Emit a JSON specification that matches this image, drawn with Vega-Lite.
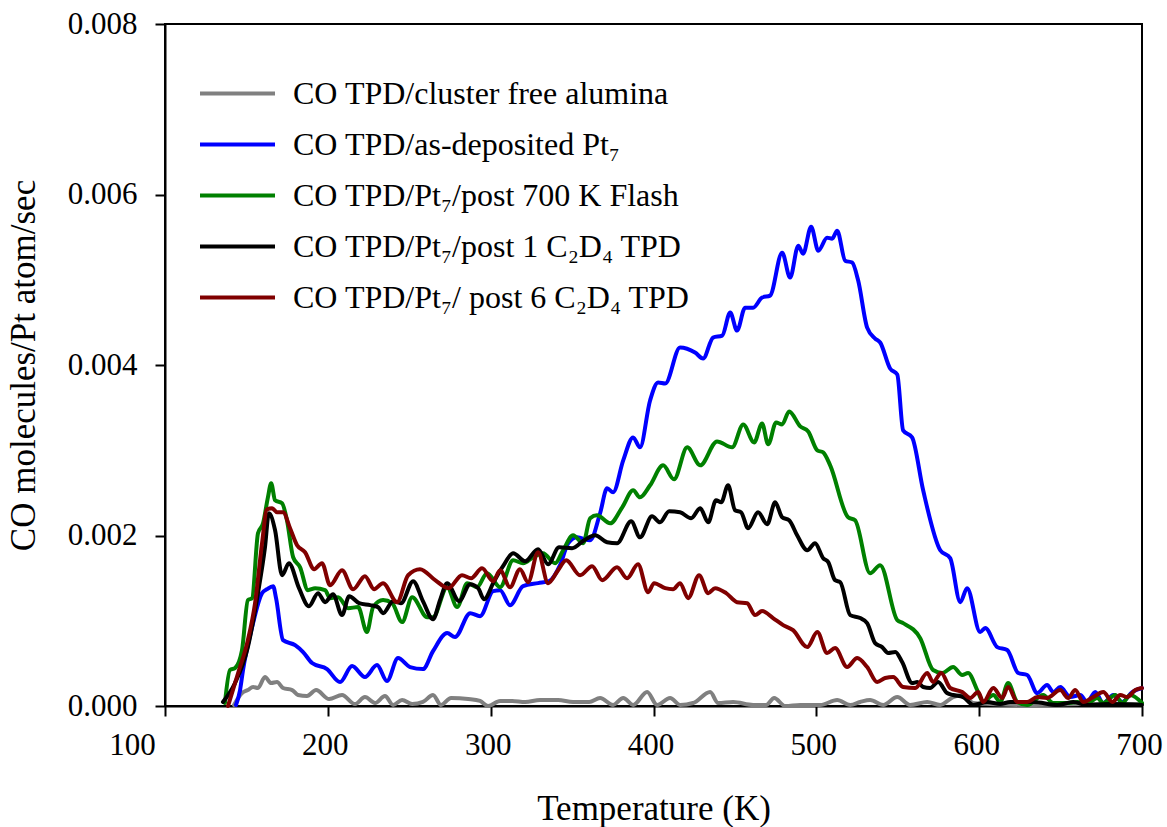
{
  "$schema": "https://vega.github.io/schema/vega-lite/v6.json",
  "autosize": {"type": "none"},
  "padding": {"left": 165, "top": 24, "right": 25, "bottom": 121},
  "width": 977,
  "height": 682,
  "background": "white",
  "config": {
    "font": "Liberation Serif",
    "view": {"stroke": "black", "strokeWidth": 2},
    "axis": {
      "grid": false,
      "domainColor": "black",
      "domainWidth": 2,
      "tickColor": "black",
      "tickWidth": 2,
      "tickSize": 10,
      "labelColor": "black",
      "titleColor": "black",
      "labelFont": "Liberation Serif",
      "titleFont": "Liberation Serif",
      "labelFontSize": 31,
      "titleFontSize": 35,
      "titleFontWeight": "normal"
    }
  },
  "data": {
    "values": [
      {"s":"a","T":142.4,"v":0.000012},{"s":"a","T":147.3,"v":0.000152},{"s":"a","T":150.9,"v":0.000187},{"s":"a","T":154.1,"v":0.000223},{"s":"a","T":157.1,"v":0.000211},{"s":"a","T":161.4,"v":0.00034},{"s":"a","T":165.2,"v":0.000269},{"s":"a","T":168.8,"v":0.000281},{"s":"a","T":172.5,"v":0.000211},{"s":"a","T":178.1,"v":0.000187},{"s":"a","T":181.7,"v":0.000129},{"s":"a","T":187.2,"v":0.000117},{"s":"a","T":192.8,"v":0.000187},{"s":"a","T":200.8,"v":0.000082},{"s":"a","T":208.7,"v":0.000129},{"s":"a","T":216.7,"v":0.000023},{"s":"a","T":222.8,"v":0.000105},{"s":"a","T":229.0,"v":0.000035},{"s":"a","T":235.1,"v":0.000117},{"s":"a","T":240.1,"v":0.000012},{"s":"a","T":245.6,"v":0.00007},{"s":"a","T":251.8,"v":0.000023},{"s":"a","T":258.4,"v":0.000047},{"s":"a","T":264.6,"v":0.000129},{"s":"a","T":269.5,"v":0.000012},{"s":"a","T":275.7,"v":0.000094},{"s":"a","T":286.2,"v":0.000082},{"s":"a","T":293.5,"v":0.000059},{"s":"a","T":298.4,"v":0.0},{"s":"a","T":305.8,"v":0.000059},{"s":"a","T":313.2,"v":0.000059},{"s":"a","T":321.2,"v":0.000047},{"s":"a","T":330.3,"v":0.00007},{"s":"a","T":341.4,"v":0.00007},{"s":"a","T":350.6,"v":0.000047},{"s":"a","T":360.5,"v":0.000047},{"s":"a","T":367.2,"v":0.000094},{"s":"a","T":375.2,"v":0.000012},{"s":"a","T":381.4,"v":0.000094},{"s":"a","T":387.5,"v":0.000012},{"s":"a","T":396.1,"v":0.000164},{"s":"a","T":402.2,"v":0.000012},{"s":"a","T":410.2,"v":0.000094},{"s":"a","T":416.3,"v":0.000012},{"s":"a","T":424.3,"v":0.000035},{"s":"a","T":434.8,"v":0.000164},{"s":"a","T":439.7,"v":0.000035},{"s":"a","T":448.9,"v":0.000047},{"s":"a","T":461.2,"v":0.000012},{"s":"a","T":469.2,"v":0.000012},{"s":"a","T":474.1,"v":0.000094},{"s":"a","T":480.9,"v":0.0},{"s":"a","T":490.1,"v":0.000012},{"s":"a","T":502.4,"v":0.000012},{"s":"a","T":512.8,"v":0.00007},{"s":"a","T":520.8,"v":0.000012},{"s":"a","T":526.9,"v":0.000047},{"s":"a","T":533.0,"v":0.00007},{"s":"a","T":541.1,"v":0.000012},{"s":"a","T":549.7,"v":0.000105},{"s":"a","T":557.6,"v":0.000012},{"s":"a","T":568.1,"v":0.000047},{"s":"a","T":576.1,"v":0.000012},{"s":"a","T":584.0,"v":0.000105},{"s":"a","T":590.2,"v":0.000129},{"s":"a","T":596.4,"v":0.000035},{"s":"a","T":606.7,"v":0.000023},{"s":"a","T":631.3,"v":0.000012},{"s":"a","T":662.1,"v":0.000023},{"s":"a","T":700,"v":0.000023},

      {"s":"b","T":143.6,"v":0.000012},{"s":"b","T":146.1,"v":0.000187},{"s":"b","T":147.9,"v":0.00042},{"s":"b","T":153.5,"v":0.000925},{"s":"b","T":159.6,"v":0.001324},{"s":"b","T":162.6,"v":0.00137},{"s":"b","T":166.4,"v":0.001406},{"s":"b","T":168.2,"v":0.001265},{"s":"b","T":172.5,"v":0.000773},{"s":"b","T":179.9,"v":0.000714},{"s":"b","T":184.8,"v":0.000633},{"s":"b","T":190.3,"v":0.000504},{"s":"b","T":199.5,"v":0.000433},{"s":"b","T":207.5,"v":0.000281},{"s":"b","T":214.9,"v":0.000469},{"s":"b","T":222.8,"v":0.00034},{"s":"b","T":230.2,"v":0.00048},{"s":"b","T":236.3,"v":0.000293},{"s":"b","T":243.1,"v":0.000562},{"s":"b","T":250.5,"v":0.000457},{"s":"b","T":258.4,"v":0.000433},{"s":"b","T":264.6,"v":0.000644},{"s":"b","T":273.3,"v":0.000855},{"s":"b","T":278.1,"v":0.000808},{"s":"b","T":287.4,"v":0.001089},{"s":"b","T":293.5,"v":0.001054},{"s":"b","T":301.5,"v":0.001347},{"s":"b","T":305.8,"v":0.001359},{"s":"b","T":311.9,"v":0.001183},{"s":"b","T":319.9,"v":0.001406},{"s":"b","T":329.1,"v":0.001441},{"s":"b","T":335.9,"v":0.001464},{"s":"b","T":342.6,"v":0.001652},{"s":"b","T":347.6,"v":0.001909},{"s":"b","T":353.1,"v":0.001979},{"s":"b","T":361.1,"v":0.001944},{"s":"b","T":367.2,"v":0.002261},{"s":"b","T":371.5,"v":0.002553},{"s":"b","T":375.2,"v":0.002507},{"s":"b","T":381.4,"v":0.002881},{"s":"b","T":387.5,"v":0.003151},{"s":"b","T":391.7,"v":0.003034},{"s":"b","T":397.9,"v":0.003584},{"s":"b","T":402.8,"v":0.003795},{"s":"b","T":407.2,"v":0.003783},{"s":"b","T":416.3,"v":0.004205},{"s":"b","T":425.5,"v":0.004146},{"s":"b","T":430.5,"v":0.004076},{"s":"b","T":436.6,"v":0.004322},{"s":"b","T":442.2,"v":0.004345},{"s":"b","T":447.1,"v":0.004615},{"s":"b","T":451.3,"v":0.004404},{"s":"b","T":456.3,"v":0.004673},{"s":"b","T":461.2,"v":0.004673},{"s":"b","T":466.7,"v":0.004791},{"s":"b","T":471.6,"v":0.004814},{"s":"b","T":479.0,"v":0.005318},{"s":"b","T":483.9,"v":0.005025},{"s":"b","T":488.9,"v":0.0054},{"s":"b","T":491.9,"v":0.005306},{"s":"b","T":496.8,"v":0.005622},{"s":"b","T":501.2,"v":0.005341},{"s":"b","T":506.6,"v":0.005493},{"s":"b","T":509.7,"v":0.005482},{"s":"b","T":512.8,"v":0.005575},{"s":"b","T":517.7,"v":0.005224},{"s":"b","T":522.0,"v":0.005201},{"s":"b","T":525.7,"v":0.00499},{"s":"b","T":531.2,"v":0.004439},{"s":"b","T":536.1,"v":0.00431},{"s":"b","T":539.2,"v":0.004264},{"s":"b","T":545.3,"v":0.003959},{"s":"b","T":549.7,"v":0.003889},{"s":"b","T":553.3,"v":0.003233},{"s":"b","T":558.8,"v":0.003151},{"s":"b","T":565.6,"v":0.00253},{"s":"b","T":576.1,"v":0.001827},{"s":"b","T":582.2,"v":0.001734},{"s":"b","T":588.4,"v":0.001218},{"s":"b","T":592.6,"v":0.001382},{"s":"b","T":600.6,"v":0.000867},{"s":"b","T":603.7,"v":0.000914},{"s":"b","T":611.1,"v":0.000691},{"s":"b","T":617.2,"v":0.000656},{"s":"b","T":624.0,"v":0.000387},{"s":"b","T":629.5,"v":0.000363},{"s":"b","T":635.7,"v":0.000152},{"s":"b","T":641.7,"v":0.000246},{"s":"b","T":645.5,"v":0.000164},{"s":"b","T":649.8,"v":0.000223},{"s":"b","T":655.9,"v":0.000105},{"s":"b","T":662.1,"v":0.000129},{"s":"b","T":666.3,"v":0.000047},{"s":"b","T":671.3,"v":0.000164},{"s":"b","T":676.2,"v":0.000035},{"s":"b","T":682.4,"v":0.000129},{"s":"b","T":687.8,"v":0.000047},{"s":"b","T":694.0,"v":0.000164},{"s":"b","T":700,"v":0.000211},

      {"s":"c","T":136.8,"v":0.000035},{"s":"c","T":139.9,"v":0.000422},{"s":"c","T":143.0,"v":0.000445},{"s":"c","T":147.3,"v":0.000656},{"s":"c","T":150.9,"v":0.001242},{"s":"c","T":153.5,"v":0.001265},{"s":"c","T":157.1,"v":0.002026},{"s":"c","T":160.2,"v":0.002143},{"s":"c","T":163.2,"v":0.002448},{"s":"c","T":165.2,"v":0.002612},{"s":"c","T":167.6,"v":0.002413},{"s":"c","T":171.9,"v":0.002378},{"s":"c","T":174.9,"v":0.002179},{"s":"c","T":178.7,"v":0.001745},{"s":"c","T":182.9,"v":0.001628},{"s":"c","T":187.8,"v":0.001359},{"s":"c","T":192.2,"v":0.001382},{"s":"c","T":198.3,"v":0.001359},{"s":"c","T":201.4,"v":0.001265},{"s":"c","T":206.3,"v":0.001277},{"s":"c","T":212.5,"v":0.001148},{"s":"c","T":218.6,"v":0.00116},{"s":"c","T":224.0,"v":0.000867},{"s":"c","T":227.8,"v":0.00116},{"s":"c","T":233.9,"v":0.001242},{"s":"c","T":239.5,"v":0.001206},{"s":"c","T":245.6,"v":0.000984},{"s":"c","T":251.8,"v":0.001277},{"s":"c","T":261.0,"v":0.001042},{"s":"c","T":264.6,"v":0.001042},{"s":"c","T":273.3,"v":0.001394},{"s":"c","T":279.4,"v":0.00116},{"s":"c","T":285.6,"v":0.001441},{"s":"c","T":291.6,"v":0.001394},{"s":"c","T":297.8,"v":0.001558},{"s":"c","T":305.8,"v":0.001394},{"s":"c","T":313.8,"v":0.00171},{"s":"c","T":319.9,"v":0.001675},{"s":"c","T":326.1,"v":0.001745},{"s":"c","T":332.1,"v":0.001792},{"s":"c","T":339.6,"v":0.001675},{"s":"c","T":344.5,"v":0.001827},{"s":"c","T":350.6,"v":0.002003},{"s":"c","T":356.8,"v":0.001909},{"s":"c","T":361.1,"v":0.002202},{"s":"c","T":365.3,"v":0.002237},{"s":"c","T":373.4,"v":0.002143},{"s":"c","T":380.8,"v":0.002331},{"s":"c","T":387.5,"v":0.00253},{"s":"c","T":391.7,"v":0.002448},{"s":"c","T":397.9,"v":0.002589},{"s":"c","T":405.9,"v":0.002823},{"s":"c","T":412.6,"v":0.002659},{"s":"c","T":420.7,"v":0.003034},{"s":"c","T":428.7,"v":0.002823},{"s":"c","T":439.0,"v":0.003104},{"s":"c","T":448.3,"v":0.003034},{"s":"c","T":455.1,"v":0.003303},{"s":"c","T":461.8,"v":0.003092},{"s":"c","T":466.7,"v":0.003315},{"s":"c","T":470.4,"v":0.003069},{"s":"c","T":475.3,"v":0.003326},{"s":"c","T":479.0,"v":0.003303},{"s":"c","T":483.3,"v":0.003455},{"s":"c","T":490.1,"v":0.00328},{"s":"c","T":495.0,"v":0.003221},{"s":"c","T":500.6,"v":0.002999},{"s":"c","T":504.2,"v":0.002975},{"s":"c","T":508.5,"v":0.002823},{"s":"c","T":519.5,"v":0.002214},{"s":"c","T":523.8,"v":0.002179},{"s":"c","T":533.0,"v":0.001558},{"s":"c","T":539.2,"v":0.001652},{"s":"c","T":549.7,"v":0.001007},{"s":"c","T":553.3,"v":0.000972},{"s":"c","T":563.8,"v":0.000796},{"s":"c","T":571.7,"v":0.000422},{"s":"c","T":577.3,"v":0.000387},{"s":"c","T":584.0,"v":0.000457},{"s":"c","T":589.6,"v":0.000363},{"s":"c","T":593.2,"v":0.000387},{"s":"c","T":598.8,"v":0.000187},{"s":"c","T":602.5,"v":0.000047},{"s":"c","T":608.7,"v":0.000129},{"s":"c","T":612.9,"v":0.000047},{"s":"c","T":617.8,"v":0.000269},{"s":"c","T":623.4,"v":0.000047},{"s":"c","T":629.5,"v":0.000012},{"s":"c","T":639.3,"v":0.000129},{"s":"c","T":645.5,"v":0.000035},{"s":"c","T":654.0,"v":0.000035},{"s":"c","T":660.2,"v":0.000047},{"s":"c","T":666.9,"v":0.000035},{"s":"c","T":672.5,"v":0.000094},{"s":"c","T":676.2,"v":0.000035},{"s":"c","T":683.6,"v":0.000129},{"s":"c","T":687.8,"v":0.000035},{"s":"c","T":692.8,"v":0.000129},{"s":"c","T":700,"v":0.000035},

      {"s":"d","T":135.6,"v":0.000047},{"s":"d","T":143.0,"v":0.000269},{"s":"d","T":150.9,"v":0.000691},{"s":"d","T":157.1,"v":0.001324},{"s":"d","T":161.4,"v":0.001862},{"s":"d","T":163.8,"v":0.002261},{"s":"d","T":167.6,"v":0.002061},{"s":"d","T":171.9,"v":0.001534},{"s":"d","T":176.1,"v":0.001675},{"s":"d","T":182.3,"v":0.001382},{"s":"d","T":188.4,"v":0.001171},{"s":"d","T":194.0,"v":0.001324},{"s":"d","T":198.3,"v":0.001218},{"s":"d","T":203.2,"v":0.001312},{"s":"d","T":208.7,"v":0.001066},{"s":"d","T":213.1,"v":0.001288},{"s":"d","T":219.2,"v":0.001206},{"s":"d","T":226.0,"v":0.001183},{"s":"d","T":230.8,"v":0.00116},{"s":"d","T":233.9,"v":0.001089},{"s":"d","T":240.1,"v":0.00123},{"s":"d","T":244.9,"v":0.001206},{"s":"d","T":252.4,"v":0.001464},{"s":"d","T":258.4,"v":0.00123},{"s":"d","T":264.6,"v":0.001019},{"s":"d","T":268.9,"v":0.001242},{"s":"d","T":273.3,"v":0.001441},{"s":"d","T":280.6,"v":0.00123},{"s":"d","T":287.4,"v":0.001429},{"s":"d","T":292.3,"v":0.001382},{"s":"d","T":295.9,"v":0.001253},{"s":"d","T":302.1,"v":0.001464},{"s":"d","T":307.6,"v":0.00164},{"s":"d","T":313.8,"v":0.001792},{"s":"d","T":321.2,"v":0.001698},{"s":"d","T":329.1,"v":0.001839},{"s":"d","T":335.3,"v":0.001663},{"s":"d","T":342.0,"v":0.001862},{"s":"d","T":350.0,"v":0.001851},{"s":"d","T":357.4,"v":0.001944},{"s":"d","T":364.1,"v":0.002003},{"s":"d","T":371.5,"v":0.001921},{"s":"d","T":377.6,"v":0.001909},{"s":"d","T":386.3,"v":0.002167},{"s":"d","T":391.7,"v":0.001979},{"s":"d","T":399.1,"v":0.002225},{"s":"d","T":404.0,"v":0.002155},{"s":"d","T":409.6,"v":0.002284},{"s":"d","T":416.3,"v":0.002272},{"s":"d","T":423.1,"v":0.002202},{"s":"d","T":428.7,"v":0.002319},{"s":"d","T":433.6,"v":0.002155},{"s":"d","T":438.4,"v":0.002413},{"s":"d","T":441.6,"v":0.002389},{"s":"d","T":445.8,"v":0.002589},{"s":"d","T":450.1,"v":0.002296},{"s":"d","T":453.8,"v":0.002272},{"s":"d","T":458.1,"v":0.002085},{"s":"d","T":464.2,"v":0.002272},{"s":"d","T":469.8,"v":0.002132},{"s":"d","T":474.7,"v":0.002389},{"s":"d","T":479.0,"v":0.002214},{"s":"d","T":483.3,"v":0.002179},{"s":"d","T":488.2,"v":0.002003},{"s":"d","T":494.4,"v":0.001827},{"s":"d","T":499.2,"v":0.001909},{"s":"d","T":504.2,"v":0.001734},{"s":"d","T":507.3,"v":0.001687},{"s":"d","T":511.5,"v":0.001476},{"s":"d","T":514.7,"v":0.001452},{"s":"d","T":520.8,"v":0.001066},{"s":"d","T":526.9,"v":0.001031},{"s":"d","T":531.2,"v":0.000972},{"s":"d","T":536.1,"v":0.000738},{"s":"d","T":540.4,"v":0.000691},{"s":"d","T":544.1,"v":0.000621},{"s":"d","T":548.5,"v":0.000633},{"s":"d","T":552.7,"v":0.000515},{"s":"d","T":558.8,"v":0.000269},{"s":"d","T":562.0,"v":0.000281},{"s":"d","T":565.6,"v":0.000223},{"s":"d","T":569.9,"v":0.000211},{"s":"d","T":574.8,"v":0.000281},{"s":"d","T":580.3,"v":0.000152},{"s":"d","T":584.0,"v":0.000129},{"s":"d","T":590.2,"v":0.000105},{"s":"d","T":596.4,"v":0.000012},{"s":"d","T":604.9,"v":0.000047},{"s":"d","T":612.9,"v":0.000023},{"s":"d","T":619.0,"v":0.000047},{"s":"d","T":633.2,"v":0.000047},{"s":"d","T":648.0,"v":0.000012},{"s":"d","T":657.8,"v":0.000047},{"s":"d","T":666.3,"v":0.000012},{"s":"d","T":680.5,"v":0.000023},{"s":"d","T":700,"v":0.000012},

      {"s":"e","T":138.7,"v":0.0},{"s":"e","T":144.9,"v":0.000387},{"s":"e","T":150.9,"v":0.000773},{"s":"e","T":155.3,"v":0.001206},{"s":"e","T":159.6,"v":0.001909},{"s":"e","T":162.6,"v":0.002307},{"s":"e","T":165.8,"v":0.002319},{"s":"e","T":168.8,"v":0.002272},{"s":"e","T":172.5,"v":0.002272},{"s":"e","T":176.8,"v":0.002085},{"s":"e","T":181.1,"v":0.001886},{"s":"e","T":186.0,"v":0.001804},{"s":"e","T":191.6,"v":0.001605},{"s":"e","T":196.4,"v":0.001675},{"s":"e","T":201.4,"v":0.001417},{"s":"e","T":208.7,"v":0.001593},{"s":"e","T":215.5,"v":0.00137},{"s":"e","T":222.8,"v":0.001523},{"s":"e","T":228.4,"v":0.00137},{"s":"e","T":233.9,"v":0.001441},{"s":"e","T":242.5,"v":0.001218},{"s":"e","T":249.3,"v":0.001534},{"s":"e","T":256.6,"v":0.001605},{"s":"e","T":265.9,"v":0.001476},{"s":"e","T":274.1,"v":0.001382},{"s":"e","T":282.4,"v":0.001534},{"s":"e","T":288.0,"v":0.001499},{"s":"e","T":294.7,"v":0.001616},{"s":"e","T":301.5,"v":0.001464},{"s":"e","T":305.8,"v":0.001593},{"s":"e","T":311.9,"v":0.001394},{"s":"e","T":318.0,"v":0.001605},{"s":"e","T":323.0,"v":0.001452},{"s":"e","T":329.1,"v":0.001804},{"s":"e","T":335.3,"v":0.001441},{"s":"e","T":341.4,"v":0.001593},{"s":"e","T":346.4,"v":0.00171},{"s":"e","T":354.9,"v":0.001534},{"s":"e","T":362.3,"v":0.00164},{"s":"e","T":368.5,"v":0.001476},{"s":"e","T":377.6,"v":0.001628},{"s":"e","T":383.8,"v":0.001499},{"s":"e","T":390.5,"v":0.001663},{"s":"e","T":396.7,"v":0.001335},{"s":"e","T":400.4,"v":0.001441},{"s":"e","T":407.2,"v":0.001382},{"s":"e","T":412.0,"v":0.00137},{"s":"e","T":416.3,"v":0.001441},{"s":"e","T":421.3,"v":0.001265},{"s":"e","T":428.0,"v":0.001534},{"s":"e","T":433.6,"v":0.001324},{"s":"e","T":437.8,"v":0.001382},{"s":"e","T":444.6,"v":0.001324},{"s":"e","T":451.3,"v":0.001218},{"s":"e","T":457.5,"v":0.001206},{"s":"e","T":462.4,"v":0.001066},{"s":"e","T":466.7,"v":0.001113},{"s":"e","T":473.4,"v":0.001031},{"s":"e","T":479.6,"v":0.000949},{"s":"e","T":485.7,"v":0.00089},{"s":"e","T":494.4,"v":0.000691},{"s":"e","T":500.6,"v":0.000867},{"s":"e","T":506.6,"v":0.000621},{"s":"e","T":511.5,"v":0.000679},{"s":"e","T":518.9,"v":0.000457},{"s":"e","T":525.1,"v":0.000562},{"s":"e","T":531.2,"v":0.000457},{"s":"e","T":537.4,"v":0.000281},{"s":"e","T":542.3,"v":0.000328},{"s":"e","T":547.2,"v":0.00034},{"s":"e","T":553.3,"v":0.000223},{"s":"e","T":560.8,"v":0.000211},{"s":"e","T":568.1,"v":0.000387},{"s":"e","T":571.7,"v":0.000281},{"s":"e","T":576.7,"v":0.000387},{"s":"e","T":582.2,"v":0.000211},{"s":"e","T":589.6,"v":0.000164},{"s":"e","T":594.5,"v":0.000094},{"s":"e","T":599.4,"v":0.000164},{"s":"e","T":602.5,"v":0.000047},{"s":"e","T":608.7,"v":0.000211},{"s":"e","T":614.1,"v":0.000094},{"s":"e","T":617.8,"v":0.000223},{"s":"e","T":623.4,"v":0.000047},{"s":"e","T":629.5,"v":0.000047},{"s":"e","T":635.7,"v":0.000105},{"s":"e","T":641.7,"v":0.000094},{"s":"e","T":649.8,"v":0.000187},{"s":"e","T":654.7,"v":0.000094},{"s":"e","T":659.0,"v":0.000187},{"s":"e","T":663.9,"v":0.000047},{"s":"e","T":670.1,"v":0.000105},{"s":"e","T":676.2,"v":0.000164},{"s":"e","T":681.8,"v":0.000047},{"s":"e","T":686.6,"v":0.000129},{"s":"e","T":690.9,"v":0.000105},{"s":"e","T":695.9,"v":0.000187},{"s":"e","T":700,"v":0.000211}
    ]
  },
  "mark": {"type": "line", "interpolate": "monotone", "strokeWidth": 4, "strokeCap": "round", "strokeJoin": "round"},
  "encoding": {
    "x": {
      "field": "T",
      "type": "quantitative",
      "scale": {"domain": [100, 700], "nice": false, "zero": false},
      "axis": {
        "title": "Temperature (K)",
        "values": [100, 200, 300, 400, 500, 600, 700],
        "format": "d",
        "labelPadding": 14,
        "titlePadding": 31,
        "labelFlush": false,
        "labelOffset": {"condition": {"test": "datum.value == 100", "value": -33}, "value": -3}
      }
    },
    "y": {
      "field": "v",
      "type": "quantitative",
      "scale": {"domain": [0, 0.008], "nice": false},
      "axis": {"title": "CO molecules/Pt atom/sec", "values": [0, 0.002, 0.004, 0.006, 0.008], "format": ".3f", "labelPadding": 18, "titlePadding": 26, "labelFlush": false}
    },
    "color": {
      "field": "s",
      "type": "nominal",
      "scale": {"domain": ["a", "b", "c", "d", "e"], "range": ["#808080", "#0000ff", "#008000", "#000000", "#800000"]},
      "legend": {
        "title": null,
        "orient": "none",
        "legendX": 33,
        "legendY": 44,
        "padding": 0,
        "symbolType": "stroke",
        "symbolSize": 5625,
        "symbolStrokeWidth": 4,
        "labelFont": "Liberation Serif",
        "labelFontSize": 32,
        "labelColor": "black",
        "labelOffset": 16,
        "labelLimit": 600,
        "rowPadding": 0,
        "clipHeight": 51,
        "labelExpr": "datum.label == 'a' ? 'CO TPD/cluster free alumina' : datum.label == 'b' ? 'CO TPD/as-deposited Pt₇' : datum.label == 'c' ? 'CO TPD/Pt₇/post 700 K Flash' : datum.label == 'd' ? 'CO TPD/Pt₇/post 1 C₂D₄ TPD' : 'CO TPD/Pt₇/ post 6 C₂D₄ TPD'"
      }
    }
  }
}
